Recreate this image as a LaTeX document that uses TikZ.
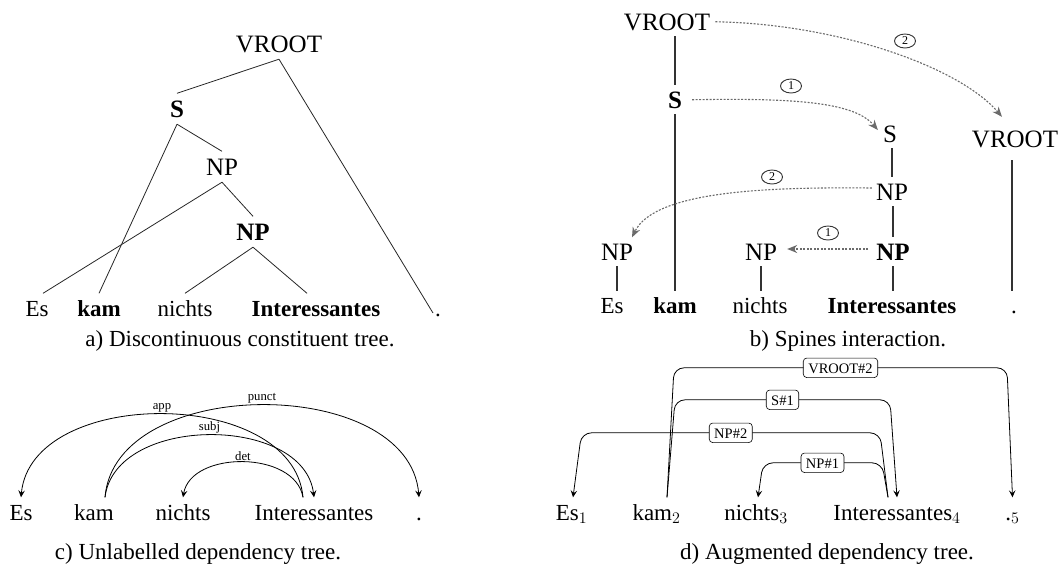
\RequirePackage{fix-cm}
\documentclass[tikz,border=0pt]{standalone}
\usepackage[no-math]{fontspec}
\setmainfont{Liberation Serif}
\usetikzlibrary{arrows.meta,shapes.geometric}
\newcommand\wordsz{\fontsize{23}{27}\selectfont}
\newcommand\treesz{\fontsize{25}{29}\selectfont}
\newcommand\depsz{\fontsize{12.7}{15}\selectfont}
\newcommand\boxsz{\fontsize{14.5}{17}\selectfont}
\newcommand\circsz{\fontsize{12}{13}\selectfont}
\begin{document}
\begin{tikzpicture}[x=1pt,y=-1pt,
  word/.style={font=\wordsz, anchor=base, inner xsep=0pt, inner ysep=7pt, text height=15.5pt, text depth=0pt},
  wordb/.style={word, inner ysep=6pt},
  wbf/.style={font=\wordsz\bfseries},
  tlab/.style={font=\treesz, anchor=base, inner xsep=1pt, inner ysep=7pt, text height=16.5pt, text depth=0pt},
  tlabb/.style={tlab, inner ysep=6pt},
  tbf/.style={font=\treesz\bfseries},
  captxt/.style={font=\wordsz, anchor=base, inner sep=0pt},
  tline/.style={line width=0.8pt, draw=black!85},
  spine/.style={line width=1.3pt, draw=black!80},
  mvarrow/.style={draw=black!58, line width=1.1pt, dash pattern=on 2pt off 1.5pt, -{Stealth[length=10pt,width=8pt]}},
  circlab/.style={ellipse, draw=black!80, line width=0.9pt, font=\circsz, text=black, inner sep=0pt, minimum width=21pt, minimum height=14pt},
  deparc/.style={line width=0.8pt, -{Stealth[length=7pt,width=6.5pt,inset=2.8pt]}},
  dlab/.style={font=\depsz, above, inner sep=1.5pt},
  depedge/.style={line width=0.8pt, rounded corners=10pt, -{Stealth[length=7pt,width=6.5pt,inset=2.8pt]}},
  dbox/.style={draw, fill=white, rounded corners=3.5pt, font=\boxsz, inner xsep=5pt, inner ysep=4.5pt, text height=10.5pt, text depth=0pt, line width=0.6pt}
]
\useasboundingbox (0,0) rectangle (1062,566);

% ---------- panel a ----------
\node[tlab] (Va) at (279,52) {VROOT};
\node[tlab,tbf] (Sa) at (177,117) {S};
\node[tlab] (NPa) at (222,175) {NP};
\node[tlab,tbf] (NPba) at (253,240) {NP};
\node[word] (Esa) at (37,316) {Es};
\node[word,wbf] (kama) at (99,316) {kam};
\node[word] (nia) at (185,316) {nichts};
\node[word,wbf] (Ia) at (316,316) {Interessantes};
\node[word] (dota) at (438,316) {.};
\draw[tline] (Va.south) -- (Sa.north);
\draw[tline] (Va.south) -- ([shift={(-5,-3)}]dota.base);
\draw[tline] (Sa.south) -- (NPa.north);
\draw[tline] (Sa.south) -- (kama.north);
\draw[tline] (NPa.south) -- ([xshift=6pt]Esa.north);
\draw[tline] (NPa.south) -- (NPba.north);
\draw[tline] (NPba.south) -- (nia.north);
\draw[tline] (NPba.south) -- ([xshift=-9pt]Ia.north);
\node[captxt] (capa) at (240,346) {a) Discontinuous constituent tree.};

% ---------- panel b ----------
\node[tlabb] (Vb) at (667,30) {VROOT};
\node[tlabb,tbf] (Sb) at (675,108) {S};
\node[tlabb] (S2b) at (890,142) {S};
\node[tlabb] (NPb) at (892,200) {NP};
\node[tlabb,tbf] (NPbb) at (893,260) {NP};
\node[tlabb] (Vr) at (1015,147) {VROOT};
\node[tlabb] (NPl) at (617,260) {NP};
\node[tlabb] (NPm) at (761,260) {NP};
\node[wordb] (Esb) at (612,313) {Es};
\node[wordb,wbf] (kamb) at (675,313) {kam};
\node[wordb] (nib) at (760,313) {nichts};
\node[wordb,wbf] (Ib) at (892,313) {Interessantes};
\node[wordb] (dotb) at (1014,313) {.};
\draw[spine] (Vb.south -| Sb.north) -- (Sb.north);
\draw[spine] (Sb.south) -- (kamb.north);
\draw[spine] (NPb.north |- S2b.south) -- (NPb.north);
\draw[spine] (NPbb.north |- NPb.south) -- (NPbb.north);
\draw[spine] (NPbb.south) -- (NPbb.south |- Ib.north);
\draw[spine, shorten <=7pt] ([xshift=-3pt]Vr.south) -- ([xshift=-3pt]Vr.south |- dotb.north);
\draw[spine] (NPl.south) -- (NPl.south |- Esb.north);
\draw[spine] (NPm.south) -- (NPm.south |- nib.north);
\draw[mvarrow] ([xshift=4pt]Vb.east) .. controls +(120,2) and +(-44,-51) .. ([shift={(-13,-7.5)}]Vr.north);
\draw[mvarrow] ([xshift=9pt]Sb.east) .. controls +(108,-2) and +(-23,-27) .. ([shift={(-4,-3.75)}]S2b.west);
\draw[mvarrow] ([shift={(-3,-3.75)}]NPb.west) .. controls +(-102,-1) and +(23,-47) .. ([xshift=15pt]NPl.north);
\draw[mvarrow] ([shift={(-7,-2.75)}]NPbb.west) -- ([shift={(9,-2.75)}]NPm.east);
\node[circlab] (c2a) at (905,41) {2};
\node[circlab] (c1a) at (791,86) {1};
\node[circlab] (c2b) at (772,177) {2};
\node[circlab] (c1b) at (828,233) {1};
\node[captxt] (capb) at (848,346) {b) Spines interaction.};

% ---------- panel c ----------
\node[word] (Esc) at (21,520) {Es};
\node[word] (kamc) at (94,520) {kam};
\node[word] (nic) at (183,520) {nichts};
\node[word] (Ic) at (314,520) {Interessantes};
\node[word] (dotc) at (419,520) {.};
\draw[deparc] ([xshift=-11pt]Ic.north) .. controls +(-10,-111) and +(10,-111) .. node[dlab,midway] {app} (Esc.north);
\draw[deparc] ([xshift=11pt]kamc.north) .. controls +(10,-123) and +(-10,-123) .. node[dlab,midway] {punct} (dotc.north);
\draw[deparc] ([xshift=11pt]kamc.north) .. controls +(10,-83) and +(-10,-83) .. node[dlab,midway] {subj} (Ic.north);
\draw[deparc] ([xshift=-11pt]Ic.north) .. controls +(-8,-47) and +(8,-47) .. node[dlab,midway] {det} (nic.north);
\node[captxt] (capc) at (198,559) {c) Unlabelled dependency tree.};

% ---------- panel d ----------
\node[word] (Esd) at (571.5,520) {Es$_1$};
\node[word] (kamd) at (656.5,520) {kam$_2$};
\node[word] (nid) at (756,520) {nichts$_3$};
\node[word] (Id) at (897,520) {Interessantes$_4$};
\node[word] (dotd) at (1012.5,520) {.$_5$};
\draw[depedge] ([xshift=10.5pt]kamd.north) -- +(7,-129.5) -- node[dbox,midway] {VROOT\#2} ([shift={(-5.5,-129.5)}]dotd.north) -- (dotd.north);
\draw[depedge] ([xshift=10.5pt]kamd.north) -- +(8,-97.5) -- node[dbox,midway] {S\#1} ([shift={(-7,-97.5)}]Id.north) -- (Id.north);
\draw[depedge] ([xshift=-9pt]Id.north) -- +(-8,-64.5) -- node[dbox,midway] {NP\#2} ([shift={(10,-64.5)}]Esd.north) -- ([xshift=1.5pt]Esd.north);
\draw[depedge] ([xshift=-9pt]Id.north) -- +(-6,-34.5) -- node[dbox,midway] {NP\#1} ([shift={(7,-34.5)}]nid.north) -- ([xshift=2pt]nid.north);
\node[captxt] (capd) at (827,559) {d) Augmented dependency tree.};
\end{tikzpicture}
\end{document}
